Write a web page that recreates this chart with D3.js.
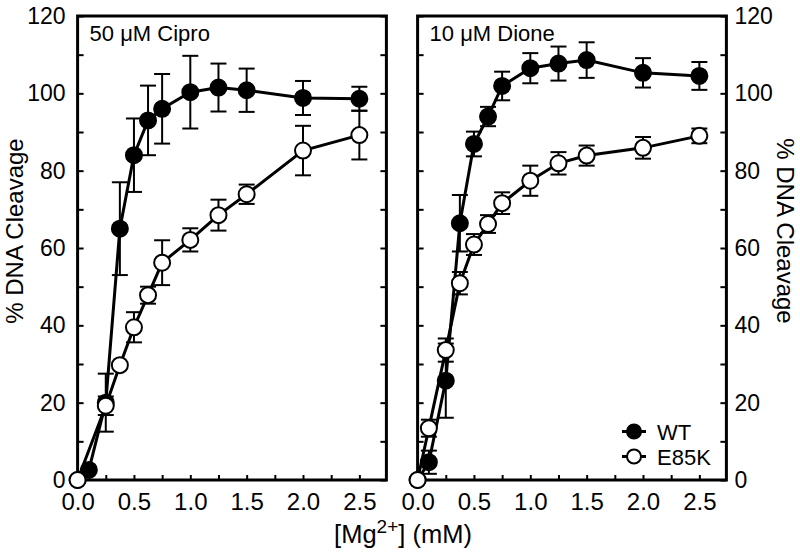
<!DOCTYPE html>
<html><head><meta charset="utf-8">
<script src="https://cdn.jsdelivr.net/npm/d3@7"></script>
<style>body{margin:0;background:#fff}svg{display:block}text{font-family:"Liberation Sans",Arial,sans-serif;fill:#000}</style>
</head><body><svg id="c" width="800" height="554"></svg>
<script>
const concFull = [0, 0.1, 0.25, 0.375, 0.5, 0.625, 0.75, 1.0, 1.25, 1.5, 2.0, 2.5];
const concCiproE85K = [0, 0.25, 0.375, 0.5, 0.625, 0.75, 1.0, 1.25, 1.5, 2.0, 2.5];

const ciproWT = [0, 2.6, 20, 65, 84, 93, 96, 100.3, 101.5, 100.8, 98.8, 98.6];
const ciproWTErr = [0, 0, 7.5, 12, 9.5, 9, 9, 9.4, 6.2, 5.6, 4.4, 3.1];
const ciproE85K = [0, 19.2, 29.7, 39.5, 47.8, 56.2, 62.1, 68.5, 73.9, 85.2, 89.2];
const ciproE85KErr = [0, 2.4, 0, 3.9, 2.2, 5.8, 3, 4, 2.5, 6.4, 6.3];

const dioneWT = [0, 4.6, 25.7, 66.4, 86.9, 94, 101.9, 106.5, 107.7, 108.6, 105.3, 104.5];
const dioneWTErr = [0, 3, 9.6, 7.3, 3.2, 2.5, 3.7, 3.9, 4.4, 4.6, 3.8, 3.6];
const dioneE85K = [0, 13.4, 33.6, 50.9, 60.9, 66.2, 71.6, 77.4, 81.9, 83.9, 85.9, 89];
const dioneE85KErr = [0, 2.2, 3, 2.9, 2.7, 2.3, 2.8, 3.9, 2.9, 2.6, 2.8, 1.9];

const panelTitles = ["50 \u03bcM Cipro", "10 \u03bcM Dione"];
const seriesNames = ["WT", "E85K"];
const yTicks = [0,10,20,30,40,50,60,70,80,90,100,110,120];
const xTicks = [0,0.25,0.5,0.75,1,1.25,1.5,1.75,2,2.25,2.5];

const panels = [
  {title: panelTitles[0], x0: 77.6, wt: {x: concFull, y: ciproWT, e: ciproWTErr}, mut: {x: concCiproE85K, y: ciproE85K, e: ciproE85KErr}, labelsLeft: true},
  {title: panelTitles[1], x0: 417.6, wt: {x: concFull, y: dioneWT, e: dioneWTErr}, mut: {x: concFull, y: dioneE85K, e: dioneE85KErr}, labelsLeft: false}
];

const svg = d3.select("#c");
const plotTop = 16, plotBottom = 480, pw = 308.8;
const y = d3.scaleLinear().domain([0,120]).range([plotBottom, plotTop]);
const FONT = 22;

panels.forEach((p, pi) => {
  const x = d3.scaleLinear().domain([0, 2.74]).range([p.x0, p.x0 + pw]);
  const g = svg.append("g");
  const fmtY = d => d % 20 === 0 ? d : "";
  const yl = d3.axisLeft(y).tickValues(yTicks).tickSize(-6).tickPadding(12)
    .tickFormat(p.labelsLeft ? fmtY : () => "");
  const yr = d3.axisRight(y).tickValues(yTicks).tickSize(-6).tickPadding(8)
    .tickFormat(p.labelsLeft ? () => "" : fmtY);
  const ga = g.append("g").attr("transform", `translate(${p.x0},0)`).call(yl);
  const gb = g.append("g").attr("transform", `translate(${p.x0+pw},0)`).call(yr);
  const xa = d3.axisBottom(x).tickValues(xTicks).tickSize(-5).tickPadding(13)
    .tickFormat(d => (Math.round(d*100) % 50 === 0) ? d3.format(".1f")(d) : "");
  const gx = g.append("g").attr("transform", `translate(0,${plotBottom})`).call(xa);
  [ga, gb, gx].forEach(a => {
    a.select(".domain").remove();
    a.selectAll("line").attr("stroke", "#000").attr("stroke-width", 2);
    a.selectAll("text").attr("font-size", 23).attr("font-family", '"Liberation Sans",Arial,sans-serif').attr("fill","#000");
  });
  gx.selectAll("text").attr("font-size", 24);
  g.append("rect").attr("x", p.x0).attr("y", plotTop).attr("width", pw).attr("height", plotBottom - plotTop)
    .attr("fill", "none").attr("stroke", "#000").attr("stroke-width", 3);
  g.append("text").attr("x", p.x0 + 12).attr("y", 41).attr("font-size", FONT).text(p.title);

  const line = d3.line().x(d => x(d[0])).y(d => y(d[1]));
  [[p.wt, "#000"], [p.mut, "#fff"]].forEach(([s, fill]) => {
    const pts = s.x.map((c, i) => [c, s.y[i], s.e[i]]);
    g.append("path").datum(pts).attr("d", line).attr("fill", "none").attr("stroke", "#000").attr("stroke-width", 3);
    const eb = g.append("g").attr("stroke", "#000").attr("stroke-width", 2);
    pts.filter(d => d[2] > 0).forEach(d => {
      const cx = x(d[0]), y1 = y(d[1] + d[2]), y2 = y(d[1] - d[2]);
      eb.append("line").attr("x1", cx).attr("x2", cx).attr("y1", y1).attr("y2", y2);
      eb.append("line").attr("x1", cx - 8).attr("x2", cx + 8).attr("y1", y1).attr("y2", y1);
      eb.append("line").attr("x1", cx - 8).attr("x2", cx + 8).attr("y1", y2).attr("y2", y2);
    });
    g.append("g").selectAll("circle").data(pts).join("circle")
      .attr("cx", d => x(d[0])).attr("cy", d => y(d[1])).attr("r", 8)
      .attr("fill", fill).attr("stroke", "#000").attr("stroke-width", 2);
  });
});

const leg = svg.append("g");
[["#000", 431.5], ["#fff", 456.5]].forEach(([fill, ly], i) => {
  leg.append("line").attr("x1", 622).attr("x2", 646).attr("y1", ly).attr("y2", ly).attr("stroke", "#000").attr("stroke-width", 3);
  leg.append("circle").attr("cx", 634).attr("cy", ly).attr("r", 7).attr("fill", fill).attr("stroke", "#000").attr("stroke-width", 2);
  leg.append("text").attr("x", 657).attr("y", ly + 8).attr("font-size", FONT).text(seriesNames[i]);
});

svg.append("text").attr("transform", "translate(17,231) rotate(-90)").attr("text-anchor", "middle")
  .attr("dominant-baseline", "middle").attr("font-size", 24).text("% DNA Cleavage");
svg.append("text").attr("transform", "translate(783,231) rotate(90)").attr("text-anchor", "middle")
  .attr("dominant-baseline", "middle").attr("font-size", 24).text("% DNA Cleavage");
const xt = svg.append("text").attr("x", 403).attr("y", 543).attr("text-anchor", "middle").attr("font-size", 25.5);
xt.append("tspan").text("[Mg");
xt.append("tspan").attr("dy", -10).attr("font-size", 19).text("2+");
xt.append("tspan").attr("dy", 10).text("] (mM)");
</script></body></html>
